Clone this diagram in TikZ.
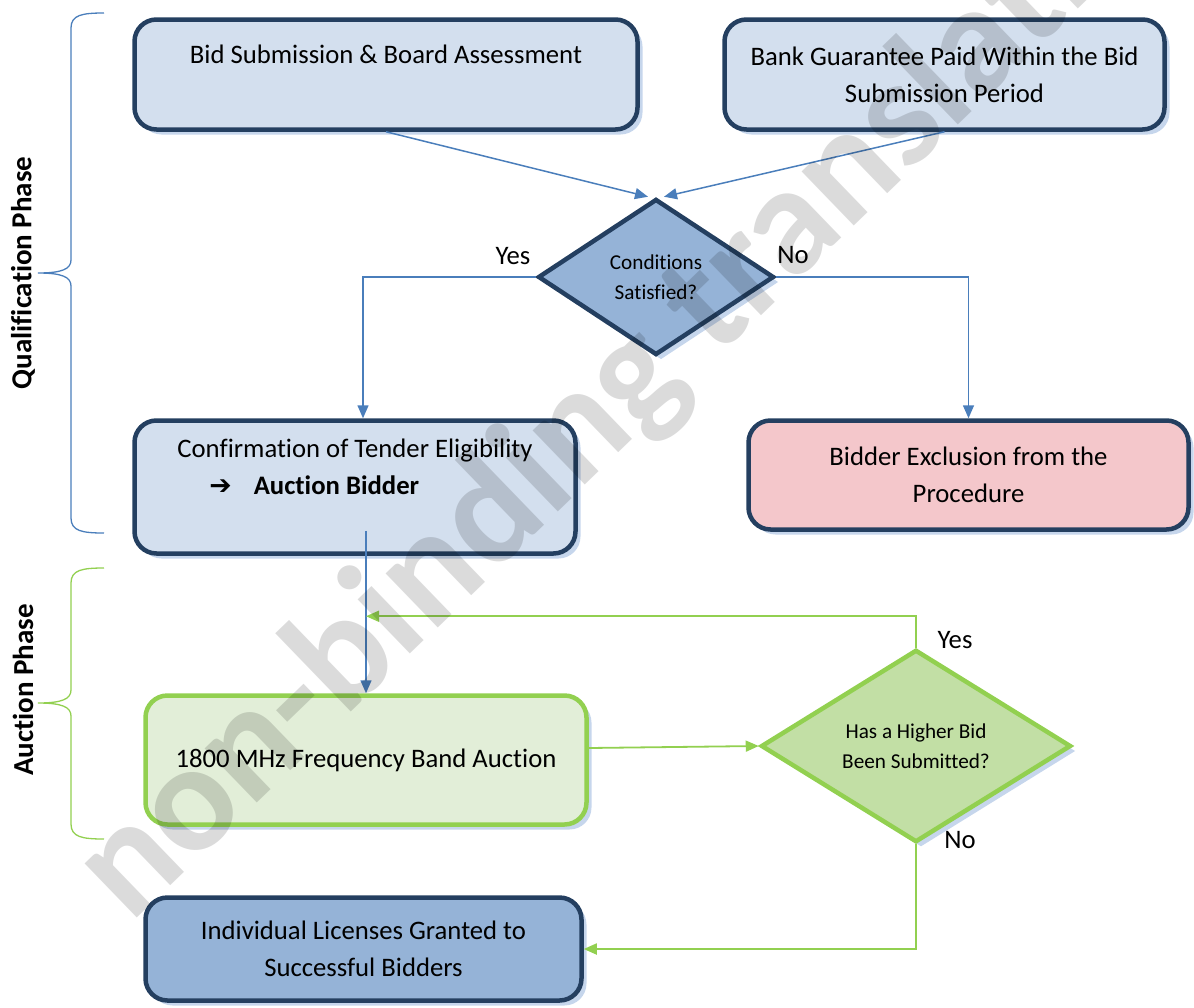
\documentclass[tikz,border=0pt]{standalone}
\usepackage{fontspec}
\setmainfont{Carlito}[Ligatures=NoCommon]
\newfontfamily\arrowfont{DejaVu Sans}
\usetikzlibrary{shapes.geometric,arrows.meta,shadows}

\definecolor{darkframe}{HTML}{243F60}
\definecolor{paleblue}{HTML}{D3DFEE}
\definecolor{midblue}{HTML}{95B3D7}
\definecolor{shadeblue}{HTML}{C6D6EC}
\definecolor{linkblue}{HTML}{4A7EBB}
\definecolor{palepink}{HTML}{F4C7CB}
\definecolor{leafgreen}{HTML}{92D050}
\definecolor{palegreen}{HTML}{E2EED8}
\definecolor{softgreen}{HTML}{C2DFA5}

\begin{document}
\begin{tikzpicture}[x=1pt, y=-1pt,
    every node/.style={font=\fontsize{26.7}{37}\selectfont},
    card/.style={rectangle, rounded corners=22pt, line width=4.5pt, draw=darkframe, fill=paleblue,
        align=center, inner sep=0pt,
        drop shadow={shadow xshift=5pt, shadow yshift=-5pt, fill=shadeblue, opacity=1}},
    greencard/.style={card, draw=leafgreen, fill=palegreen},
    choice/.style={diamond, line width=4.5pt, draw=darkframe, fill=midblue, align=center, inner sep=0pt,
        font=\fontsize{21.2}{30}\selectfont,
        drop shadow={shadow xshift=5pt, shadow yshift=-5pt, fill=shadeblue, opacity=1}},
    greenchoice/.style={choice, draw=leafgreen, fill=softgreen},
    flow/.style={draw=linkblue, line width=1.5pt, -{Triangle[length=13pt,width=11pt]}},
    loopflow/.style={draw=leafgreen, line width=1.8pt, -{Triangle[length=13pt,width=11pt]}},
    phase/.style={rotate=90, font=\fontsize{29}{35}\selectfont\bfseries}
]
    \useasboundingbox (0,0) rectangle (1194,1007);

    % qualification phase
    \node[card, minimum width=503pt, minimum height=110pt] (bid) at (386,74.5)
        {Bid Submission \& Board Assessment\\[-8pt] \strut};
    \node[card, minimum width=440pt, minimum height=110pt] (bank) at (944.5,74.5)
        {Bank Guarantee Paid Within the Bid\\ Submission Period};
    \node[choice, minimum width=236pt, minimum height=156pt] (cond) at (656,277)
        {Conditions\\ Satisfied?};
    \node[card, align=left, minimum width=441pt, minimum height=133pt] (conf) at (355,487)
        {Confirmation of Tender Eligibility\\
         \hspace*{32pt}{\arrowfont\bfseries ➔}\hspace*{22pt}\textbf{Auction Bidder}\\[-8pt] \strut};
    \node[card, fill=palepink, minimum width=440pt, minimum height=109pt] (excl) at (968.5,475)
        {Bidder Exclusion from the\\ Procedure};

    % auction phase
    \node[greencard, minimum width=441pt, minimum height=129pt] (band) at (366,760)
        {1800 MHz Frequency Band Auction};
    \node[greenchoice, minimum width=310pt, minimum height=156pt] (higher) at (916,746)
        {Has a Higher Bid\\ Been Submitted?};
    \node[card, fill=midblue, minimum width=436pt, minimum height=103pt] (lic) at (363.5,949)
        {Individual Licenses Granted to\\ Successful Bidders};

    \node (yes1) at (513,256) {Yes};
    \node (no1) at (793,255) {No};
    \node (yes2) at (955,640) {Yes};
    \node (no2) at (960,840) {No};

    \coordinate (drop) at ([yshift=25pt]conf.south -| band.north);
    \coordinate (merge) at ([yshift=77pt]band.north);

    \draw[flow] (bid.south) -- ([xshift=-8pt]cond.north);
    \draw[flow] (bank.south) -- ([xshift=8pt]cond.north);
    \draw[flow] (cond.west) -| ([xshift=8pt]conf.north);
    \draw[flow] (cond.east) -| (excl.north);
    \draw[flow] (drop) -- (band.north);
    \draw[loopflow] ([yshift=12pt]band.east) -- (higher.west);
    \draw[loopflow] (higher.north) |- (merge);
    \draw[loopflow] (higher.south) |- (lic.east);

    % braces and phase names
    \node[phase] (qual) at (23,273) {Qualification Phase};
    \node[phase] (auct) at (23,690) {Auction Phase};
    \draw[linkblue, line width=1.3pt] (104,13) .. controls (82,13) and (71,15) .. (71,28) -- (71,260)
        .. controls (71,269) and (62,273) .. (38,273) .. controls (62,273) and (71,277) .. (71,286)
        -- (71,518) .. controls (71,531) and (82,533) .. (104,533);
    \draw[leafgreen, line width=1.3pt] (104,568) .. controls (82,568) and (71,570) .. (71,583) -- (71,690)
        .. controls (71,699) and (62,703) .. (38,703) .. controls (62,703) and (71,707) .. (71,716)
        -- (71,824) .. controls (71,837) and (82,839) .. (104,839);

    % watermark
    \node[rotate=44, anchor=base west, text=black, text opacity=0.14, inner sep=0pt,
        font=\fontsize{155}{155}\selectfont\bfseries] (mark) at (130,925) {non-binding translation};
\end{tikzpicture}
\end{document}
